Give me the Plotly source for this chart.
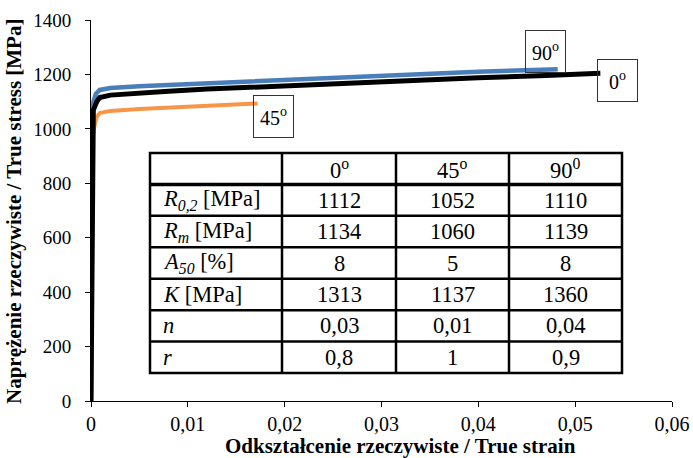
import plotly.graph_objects as go

# ---------------- data ----------------
strain_0 = [0, 0.00005, 0.0001, 0.00015, 0.00024, 0.0006, 0.0009, 0.002, 0.004, 0.008, 0.012,
            0.0164, 0.024, 0.0319, 0.04, 0.047, 0.0526]
stress_0 = [0, 450, 900, 1000, 1069, 1100, 1115, 1124, 1130, 1138, 1146,
            1153, 1165, 1177, 1188, 1196, 1204]

strain_45 = [0, 0.00008, 0.00012, 0.0002, 0.00034, 0.0006, 0.0009, 0.002, 0.005, 0.01, 0.0138, 0.0172]
stress_45 = [0, 450, 900, 970, 1008, 1045, 1058, 1066, 1073, 1081, 1087, 1093]

strain_90 = [0, 0.0001, 0.00015, 0.00025, 0.0005, 0.0009, 0.002, 0.005, 0.01, 0.0164,
             0.024, 0.0319, 0.04, 0.0482]
stress_90 = [0, 950, 1040, 1100, 1128, 1143, 1150, 1157, 1165, 1176,
             1188, 1200, 1210, 1219]

x_tickvals = [0, 0.01, 0.02, 0.03, 0.04, 0.05, 0.06]
x_ticktext = ["0", "0,01", "0,02", "0,03", "0,04", "0,05", "0,06"]
y_tickvals = [0, 200, 400, 600, 800, 1000, 1200, 1400]
y_ticktext = ["0", "200", "400", "600", "800", "1000", "1200", "1400"]

table_header = ["", "0<sup>o</sup>", "45<sup>o</sup>", "90<sup>0</sup>"]
row_labels = ["<i>R</i><sub><i>0,2</i></sub> [MPa]", "<i>R</i><sub><i>m</i></sub> [MPa]",
              "<i>A</i><sub><i>50</i></sub> [%]", "<i>K</i> [MPa]", "<i>n</i>", "<i>r</i>"]
values_0 = ["1112", "1134", "8", "1313", "0,03", "0,8"]
values_45 = ["1052", "1060", "5", "1137", "0,01", "1"]
values_90 = ["1110", "1139", "8", "1360", "0,04", "0,9"]

# ---------------- layout geometry (pixels) ----------------
W, H = 693, 458
L, R, T, B = 91, 21, 20, 57
PW, PH = W - L - R, H - T - B
FONT = "Liberation Serif"


def px(xp):
    return (xp - L) / PW


def py(yp):
    return (H - B - yp) / PH


fig = go.Figure()
fig.add_trace(go.Scatter(x=strain_45, y=stress_45, mode="lines", name="45",
                         line=dict(color="#f79646", width=4), showlegend=False))
fig.add_trace(go.Scatter(x=strain_90, y=stress_90, mode="lines", name="90",
                         line=dict(color="#4a7ebb", width=4.5), showlegend=False))
fig.add_trace(go.Scatter(x=strain_0, y=stress_0, mode="lines", name="0",
                         line=dict(color="#000000", width=5), showlegend=False))

shapes = []
annotations = []

# series labels (boxed), anchored on the series end points
box = dict(showarrow=False, font=dict(family=FONT, size=20, color="black"),
           bordercolor="#333333", borderwidth=1, borderpad=1, width=37, height=39,
           xref="x", yref="y", xanchor="center", yanchor="middle")
annotations.append(dict(text="90<sup>o</sup>", x=strain_90[-1], y=stress_90[-1],
                        xshift=-12.5, yshift=17.5, **box))
annotations.append(dict(text="0<sup>o</sup>", x=strain_0[-1], y=stress_0[-1],
                        xshift=17, yshift=-7.5, **box))
annotations.append(dict(text="45<sup>o</sup>", x=strain_45[-1], y=stress_45[-1],
                        xshift=16, yshift=-12.5, **box))

# table
col_edges = [150, 282, 396, 509, 622]
top, bottom = 153, 373
nrows = 7
rh = (bottom - top) / nrows
row_edges = [top + i * rh for i in range(nrows + 1)]

shapes.append(dict(type="rect", xref="paper", yref="paper",
                   x0=px(col_edges[0]), x1=px(col_edges[-1]), y0=py(bottom), y1=py(top),
                   fillcolor="white", line=dict(color="black", width=2.5), layer="above"))
for i, ye in enumerate(row_edges[1:-1]):
    shapes.append(dict(type="line", xref="paper", yref="paper",
                       x0=px(col_edges[0]), x1=px(col_edges[-1]), y0=py(ye), y1=py(ye),
                       line=dict(color="black", width=3.5 if i == 0 else 2.5), layer="above"))
for xe in col_edges[1:-1]:
    shapes.append(dict(type="line", xref="paper", yref="paper",
                       x0=px(xe), x1=px(xe), y0=py(top), y1=py(bottom),
                       line=dict(color="black", width=2.5), layer="above"))

tfont = dict(family=FONT, size=22.5, color="black")
for j, h in enumerate(table_header):
    if h:
        annotations.append(dict(text=h, xref="paper", yref="paper",
                                x=px((col_edges[j] + col_edges[j + 1]) / 2),
                                y=py((row_edges[0] + row_edges[1]) / 2),
                                showarrow=False, font=tfont, xanchor="center", yanchor="middle"))
cols = [values_0, values_45, values_90]
for i in range(len(row_labels)):
    yc = py((row_edges[i + 1] + row_edges[i + 2]) / 2)
    annotations.append(dict(text=row_labels[i], xref="paper", yref="paper",
                            x=px(161), y=yc, showarrow=False, font=tfont,
                            xanchor="left", yanchor="middle"))
    for j, c in enumerate(cols):
        annotations.append(dict(text=c[i], xref="paper", yref="paper",
                                x=px((col_edges[j + 1] + col_edges[j + 2]) / 2), y=yc,
                                showarrow=False, font=tfont, xanchor="center", yanchor="middle"))

# axis titles
annotations.append(dict(text="<b>Odkształcenie rzeczywiste / True strain</b>",
                        xref="paper", yref="paper", x=px(400), y=py(446),
                        showarrow=False, font=dict(family=FONT, size=21, color="black"),
                        xanchor="center", yanchor="middle"))
annotations.append(dict(text="<b>Naprężenie rzeczywiste / True stress [MPa]</b>",
                        xref="paper", yref="paper", x=px(14), y=py(212),
                        showarrow=False, textangle=-90,
                        font=dict(family=FONT, size=21, color="black"),
                        xanchor="center", yanchor="middle"))

fig.update_layout(
    width=W, height=H,
    margin=dict(l=L, r=R, t=T, b=B, autoexpand=False),
    paper_bgcolor="white", plot_bgcolor="white",
    font=dict(family=FONT, color="black"),
    shapes=shapes, annotations=annotations,
    xaxis=dict(range=[0, 0.06], tickvals=x_tickvals, ticktext=x_ticktext, automargin=False,
               showgrid=False, zeroline=False, showline=True, linecolor="black", linewidth=1,
               ticks="outside", ticklen=5, tickcolor="black",
               tickfont=dict(family=FONT, size=20, color="black")),
    yaxis=dict(range=[0, 1400], tickvals=y_tickvals, ticktext=y_ticktext, automargin=False,
               showgrid=False, zeroline=False, showline=True, linecolor="black", linewidth=1,
               ticks="outside", ticklen=5, tickcolor="black", ticklabelstandoff=10,
               tickfont=dict(family=FONT, size=19, color="black")),
)

fig.write_html("out.html", config={"displayModeBar": False},
               post_script="document.body.style.margin='0';")
